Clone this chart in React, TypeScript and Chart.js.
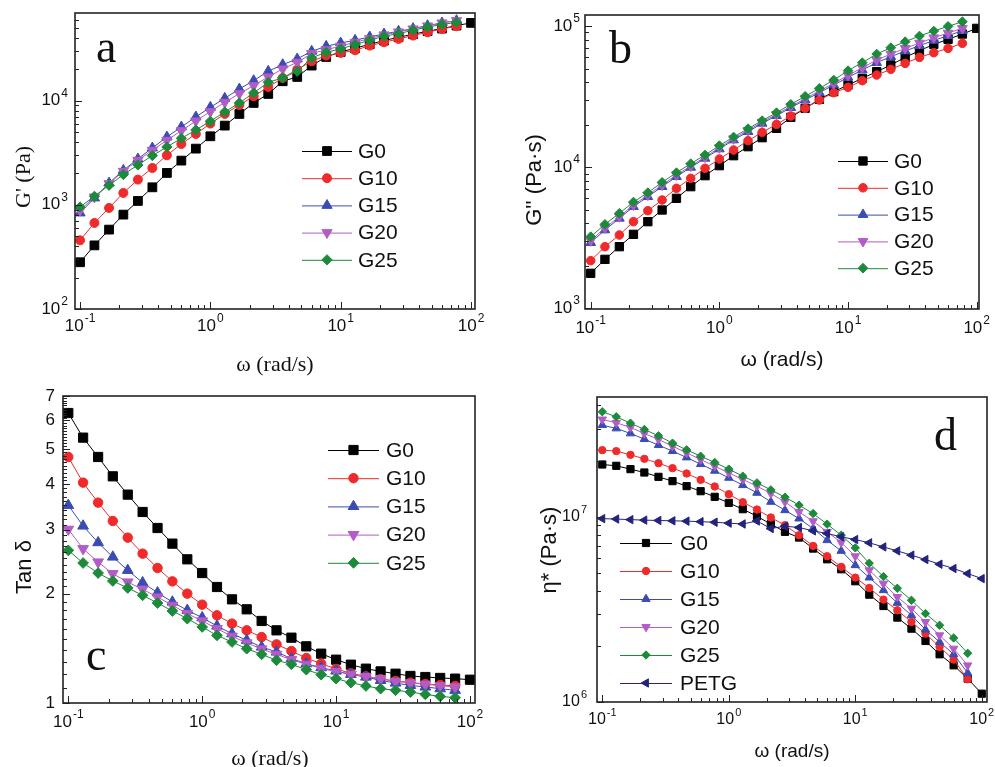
import React, { useEffect, useRef } from 'react';
import { Chart, registerables } from 'chart.js';

Chart.register(...registerables);

// angular frequency (rad/s)
const omega = [0.1, 0.129, 0.167, 0.215, 0.278, 0.359, 0.464, 0.599, 0.774, 1, 1.29, 1.67, 2.15, 2.78, 3.59, 4.64, 5.99, 7.74, 10, 12.9, 16.7, 21.5, 27.8, 35.9, 46.4, 59.9, 77.4, 100];

// (a) storage modulus G' (Pa)
const gpG0 = [281, 408, 578, 805, 1089, 1472, 2022, 2655, 3460, 4545, 5754, 7447, 9500, 11590, 15340, 16870, 21680, 26250, 29320, 31790, 34730, 37650, 40550, 43340, 46340, 49110, 52480, 55700];
const gpG10 = [456, 670, 933, 1300, 1745, 2258, 2986, 3837, 4786, 6016, 7447, 9080, 11010, 13520, 16500, 19860, 23870, 27040, 28700, 30400, 33700, 36300, 39100, 42100, 45300, 48700, 51700];
const gpG15 = [835, 1163, 1620, 2144, 2754, 3513, 4480, 5588, 6970, 8630, 10530, 12940, 15560, 19120, 22160, 25120, 29760, 33230, 35770, 37960, 40870, 43650, 46300, 49120, 52480, 55670, 58610];
const gpG20 = [886, 1189, 1597, 2097, 2674, 3336, 4161, 5152, 6380, 7843, 9638, 11670, 13930, 16870, 20140, 23330, 28260, 30870, 33230, 36310, 39380, 42710, 45620, 48750, 52100, 55670, 58610];
const gpG25 = [953, 1207, 1538, 1950, 2412, 2965, 3590, 4348, 5227, 6340, 7780, 9500, 11850, 15000, 16510, 19130, 25700, 29110, 31330, 34500, 37960, 41500, 43990, 47330, 50940, 53700, 56490];

// (b) loss modulus G'' (Pa·s)
const gppG0 = [1770, 2223, 2734, 3344, 4110, 4973, 6016, 7278, 8707, 10250, 12060, 13970, 16180, 18840, 22550, 26120, 30220, 34260, 38200, 42590, 47490, 52960, 59970, 66870, 74090, 80500, 87740, 96230];
const gppG10 = [2176, 2734, 3307, 4111, 4918, 5852, 7079, 8335, 9811, 11430, 13230, 15410, 17650, 20110, 23040, 26110, 29920, 33710, 36780, 41010, 44970, 49330, 54390, 59980, 64730, 69470, 75380];
const gppG15 = [2919, 3588, 4341, 5252, 6180, 7275, 8565, 9972, 11550, 13450, 15570, 17840, 20440, 23170, 26400, 29920, 33710, 38190, 43290, 48800, 55000, 60650, 66520, 72560, 79140, 85390, 92670];
const gppG20 = [3016, 3708, 4461, 5395, 6350, 7476, 8801, 10190, 11800, 13750, 15920, 18240, 20890, 23670, 26970, 30570, 34640, 39260, 44730, 50690, 57440, 63340, 69470, 75780, 82680, 89200, 96270];
const gppG25 = [3218, 3936, 4710, 5665, 6597, 7808, 9143, 10590, 12200, 14210, 16360, 18740, 21360, 24330, 27870, 31760, 36180, 41450, 48270, 55000, 63340, 70230, 77450, 84960, 92170, 99450, 107300];

// (c) tan delta
const tdG0 = [6.284, 5.376, 4.756, 4.207, 3.746, 3.356, 3.032, 2.746, 2.486, 2.279, 2.086, 1.929, 1.811, 1.682, 1.585, 1.513, 1.432, 1.367, 1.316, 1.275, 1.243, 1.222, 1.204, 1.187, 1.179, 1.172, 1.167, 1.159];
const tdG10 = [4.756, 4.042, 3.561, 3.17, 2.852, 2.577, 2.353, 2.162, 2.0, 1.865, 1.743, 1.654, 1.585, 1.519, 1.45, 1.39, 1.33, 1.283, 1.241, 1.207, 1.184, 1.164, 1.15, 1.138, 1.128, 1.121, 1.114];
const tdG15 = [3.501, 3.071, 2.764, 2.523, 2.319, 2.145, 2.012, 1.897, 1.8, 1.718, 1.629, 1.552, 1.488, 1.426, 1.382, 1.325, 1.283, 1.251, 1.225, 1.199, 1.179, 1.154, 1.135, 1.118, 1.107, 1.095, 1.084];
const tdG20 = [3.007, 2.659, 2.444, 2.27, 2.153, 2.055, 1.957, 1.857, 1.762, 1.682, 1.602, 1.526, 1.463, 1.408, 1.361, 1.316, 1.278, 1.246, 1.22, 1.199, 1.182, 1.167, 1.147, 1.136, 1.126, 1.116, 1.107];
const tdG25 = [2.632, 2.429, 2.279, 2.167, 2.073, 1.979, 1.885, 1.792, 1.707, 1.619, 1.535, 1.472, 1.411, 1.361, 1.311, 1.278, 1.235, 1.197, 1.167, 1.138, 1.114, 1.095, 1.084, 1.072, 1.056, 1.043, 1.034];

// (d) complex viscosity eta* (Pa·s)
const etaG0 = [1.918e7, 1.887e7, 1.81e7, 1.736e7, 1.645e7, 1.559e7, 1.465e7, 1.376e7, 1.283e7, 1.19e7, 1.1e7, 1.008e7, 9.13e6, 8.3e6, 7.73e6, 6.74e6, 5.9e6, 5.21e6, 4.49e6, 3.8e6, 3.3e6, 2.857e6, 2.49e6, 2.136e6, 1.81e6, 1.578e6, 1.337e6, 1.109e6];
const etaG10 = [2.293e7, 2.265e7, 2.163e7, 2.058e7, 1.95e7, 1.833e7, 1.715e7, 1.585e7, 1.459e7, 1.326e7, 1.2e7, 1.095e7, 9.92e6, 9.02e6, 7.96e6, 6.97e6, 6.13e6, 5.37e6, 4.7e6, 4.13e6, 3.575e6, 3.13e6, 2.706e6, 2.341e6, 1.983e6, 1.694e6, 1.326e6];
const etaG15 = [3.13e7, 3.003e7, 2.822e7, 2.629e7, 2.44e7, 2.265e7, 2.093e7, 1.926e7, 1.773e7, 1.625e7, 1.483e7, 1.348e7, 1.205e7, 1.086e7, 9.79e6, 8.65e6, 7.48e6, 6.55e6, 5.48e6, 4.7e6, 4.015e6, 3.43e6, 2.94e6, 2.46e6, 2.11e6, 1.81e6, 1.435e6];
const etaG20 = [3.358e7, 3.222e7, 3.04e7, 2.822e7, 2.618e7, 2.41e7, 2.218e7, 2.041e7, 1.879e7, 1.729e7, 1.591e7, 1.465e7, 1.337e7, 1.205e7, 1.064e7, 9.475e6, 8.3e6, 7.27e6, 6.13e6, 5.15e6, 4.36e6, 3.695e6, 3.195e6, 2.706e6, 2.293e6, 1.942e6, 1.578e6];
const etaG25 = [3.695e7, 3.472e7, 3.208e7, 2.966e7, 2.74e7, 2.502e7, 2.302e7, 2.127e7, 1.967e7, 1.81e7, 1.659e7, 1.527e7, 1.399e7, 1.277e7, 1.157e7, 1.042e7, 9.13e6, 7.96e6, 6.8e6, 5.62e6, 4.76e6, 4.115e6, 3.544e6, 3.003e6, 2.597e6, 2.218e6, 1.833e6];
const etaPETG = [9.78e6, 9.73e6, 9.66e6, 9.6e6, 9.56e6, 9.52e6, 9.48e6, 9.42e6, 9.35e6, 9.25e6, 9.15e6, 9.5e6, 8.65e6, 8.9e6, 8.76e6, 8.4e6, 8.13e6, 7.8e6, 7.54e6, 7.24e6, 6.88e6, 6.55e6, 6.21e6, 5.88e6, 5.55e6, 5.26e6, 4.94e6, 4.64e6];

// tick labels
const xTickValues = [0.1, 1, 10, 100];
const xTickExps = ['-1', '0', '1', '2'];
const yTicksA = [100, 1000, 10000];
const yExpsA = ['2', '3', '4'];
const yTicksB = [1000, 10000, 100000];
const yExpsB = ['3', '4', '5'];
const yTicksC = [1, 2, 3, 4, 5, 6, 7];
const yTicksD = [1e6, 1e7];
const yExpsD = ['6', '7'];

const SANS = '"Liberation Sans", Arial, sans-serif';
const SERIF = '"Liberation Serif", "Times New Roman", serif';

const STYLES: Record<string, { color: string; style: string; rot: number; r: number }> = {
  G0: { color: '#000000', style: 'rect', rot: 0, r: 6.2 },
  G10: { color: '#f02a2a', style: 'circle', rot: 0, r: 4.5 },
  G15: { color: '#3a4cb2', style: 'triangle', rot: 0, r: 5.9 },
  G20: { color: '#b35cc7', style: 'triangle', rot: 180, r: 5.9 },
  G25: { color: '#1c8a3a', style: 'rectRot', rot: 0, r: 5.1 },
  PETG: { color: '#23237e', style: 'triangle', rot: -90, r: 5.9 },
};

function drawMarker(ctx: CanvasRenderingContext2D, name: string, x: number, y: number, scale: number) {
  const st = STYLES[name];
  const r = st.r * scale;
  ctx.save();
  ctx.fillStyle = st.color;
  ctx.strokeStyle = st.color;
  ctx.lineWidth = 1;
  ctx.beginPath();
  if (st.style === 'circle') {
    ctx.arc(x, y, r, 0, Math.PI * 2);
  } else if (st.style === 'rect') {
    const s = Math.SQRT1_2 * r;
    ctx.rect(x - s, y - s, 2 * s, 2 * s);
  } else if (st.style === 'rectRot') {
    ctx.moveTo(x - r, y);
    ctx.lineTo(x, y - r);
    ctx.lineTo(x + r, y);
    ctx.lineTo(x, y + r);
    ctx.closePath();
  } else {
    let a = (st.rot * Math.PI) / 180;
    for (let k = 0; k < 3; k++) {
      const px = x + Math.sin(a) * r;
      const py = y - Math.cos(a) * r;
      if (k === 0) ctx.moveTo(px, py);
      else ctx.lineTo(px, py);
      a += (2 * Math.PI) / 3;
    }
    ctx.closePath();
  }
  ctx.fill();
  ctx.stroke();
  ctx.restore();
}

function drawPow(ctx: CanvasRenderingContext2D, exp: string, x: number, y: number, align: 'center' | 'right', size: number) {
  const sup = Math.round(size * 0.68);
  ctx.font = `${size}px ${SANS}`;
  const wb = ctx.measureText('10').width;
  ctx.font = `${sup}px ${SANS}`;
  const ws = ctx.measureText(exp).width;
  const total = wb + ws + 1;
  const left = align === 'center' ? x - total / 2 : x - total;
  ctx.textAlign = 'left';
  ctx.textBaseline = 'middle';
  ctx.font = `${size}px ${SANS}`;
  ctx.fillText('10', left, y);
  ctx.font = `${sup}px ${SANS}`;
  ctx.fillText(exp, left + wb + 1, y - size * 0.42);
}

function logMinor(min: number, max: number) {
  const out: { v: number; major: boolean }[] = [];
  const e0 = Math.floor(Math.log10(min));
  const e1 = Math.ceil(Math.log10(max));
  for (let e = e0; e <= e1; e++) {
    for (let m = 1; m <= 9; m++) {
      const v = m * Math.pow(10, e);
      if (v >= min * 0.9999 && v <= max * 1.0001) out.push({ v, major: m === 1 });
    }
  }
  return out;
}

type Cfg = {
  key: string;
  left: number; top: number; w: number; h: number;
  pad: { left: number; top: number; right: number; bottom: number };
  xMin: number; xMax: number; yMin: number; yMax: number;
  series: [string, number[]][];
  mscale: number;
  xTitle: string; xTitleFont: string; xTitlePos: [number, number];
  yTitle: string; yTitleFont: string; yTitlePos: [number, number];
  letter: string; letterPos: [number, number];
  legend: { x: number; y: number; dy: number; len: number; textX: number };
  xLabelY: number; yLabelRight: number; tickFont: number;
  yTicks: number[]; yExps: string[] | null; linMinor: boolean;
};

const panels: Cfg[] = [
  {
    key: 'a', left: 0, top: 0, w: 495, h: 385,
    pad: { left: 75, top: 13, right: 20, bottom: 76 },
    xMin: 0.0915, xMax: 107.3, yMin: 100, yMax: 69300,
    series: [['G0', gpG0], ['G10', gpG10], ['G15', gpG15], ['G20', gpG20], ['G25', gpG25]],
    mscale: 1,
    xTitle: 'ω (rad/s)', xTitleFont: `22px ${SERIF}`, xTitlePos: [275, 365],
    yTitle: "G' (Pa)", yTitleFont: `22px ${SERIF}`, yTitlePos: [24, 177],
    letter: 'a', letterPos: [96, 62],
    legend: { x: 302, y: 151, dy: 27.2, len: 50, textX: 358 },
    xLabelY: 326, yLabelRight: 68, tickFont: 17,
    yTicks: yTicksA, yExps: yExpsA, linMinor: false,
  },
  {
    key: 'b', left: 495, top: 0, w: 500, h: 385,
    pad: { left: 90, top: 15, right: 16, bottom: 76 },
    xMin: 0.0903, xMax: 104.2, yMin: 989, yMax: 119700,
    series: [['G0', gppG0], ['G10', gppG10], ['G15', gppG15], ['G20', gppG20], ['G25', gppG25]],
    mscale: 0.95,
    xTitle: 'ω (rad/s)', xTitleFont: `21px ${SANS}`, xTitlePos: [287, 360],
    yTitle: "G'' (Pa·s)", yTitleFont: `22px ${SANS}`, yTitlePos: [40, 180],
    letter: 'b', letterPos: [114, 63],
    legend: { x: 343, y: 161, dy: 26.8, len: 50, textX: 399 },
    xLabelY: 328, yLabelRight: 85, tickFont: 17,
    yTicks: yTicksB, yExps: yExpsB, linMinor: false,
  },
  {
    key: 'c', left: 0, top: 385, w: 495, h: 382,
    pad: { left: 63, top: 11, right: 20, bottom: 64 },
    xMin: 0.0913, xMax: 109, yMin: 1, yMax: 7,
    series: [['G0', tdG0], ['G10', tdG10], ['G15', tdG15], ['G20', tdG20], ['G25', tdG25]],
    mscale: 1.05,
    xTitle: 'ω (rad/s)', xTitleFont: `22px ${SERIF}`, xTitlePos: [270, 374],
    yTitle: 'Tan δ', yTitleFont: `22px ${SANS}`, yTitlePos: [25, 182],
    letter: 'c', letterPos: [86, 285],
    legend: { x: 328, y: 65, dy: 28.2, len: 51, textX: 386 },
    xLabelY: 337, yLabelRight: 55, tickFont: 17,
    yTicks: yTicksC, yExps: null, linMinor: true,
  },
  {
    key: 'd', left: 495, top: 385, w: 500, h: 382,
    pad: { left: 102, top: 12, right: 8, bottom: 65 },
    xMin: 0.0908, xMax: 110, yMin: 1e6, yMax: 4.44e7,
    series: [['G0', etaG0], ['G10', etaG10], ['G15', etaG15], ['G20', etaG20], ['G25', etaG25], ['PETG', etaPETG]],
    mscale: 0.82,
    xTitle: 'ω (rad/s)', xTitleFont: `19px ${SANS}`, xTitlePos: [297, 367],
    yTitle: 'η* (Pa·s)', yTitleFont: `22px ${SANS}`, yTitlePos: [55, 165],
    letter: 'd', letterPos: [439, 65],
    legend: { x: 125, y: 158, dy: 28, len: 52, textX: 185 },
    xLabelY: 335, yLabelRight: 92, tickFont: 16,
    yTicks: yTicksD, yExps: yExpsD, linMinor: false,
  },
];

function makeFrame(cfg: Cfg) {
  return {
    id: 'frame_' + cfg.key,
    afterDraw(chart: any) {
      const ctx: CanvasRenderingContext2D = chart.ctx;
      const ca = chart.chartArea;
      const xs = chart.scales.x;
      const ys = chart.scales.y;
      ctx.save();
      ctx.fillStyle = '#111';
      ctx.strokeStyle = '#222';
      ctx.lineWidth = 1;

      // x ticks (inward, bottom)
      for (const t of logMinor(cfg.xMin, cfg.xMax)) {
        const px = Math.round(xs.getPixelForValue(t.v)) + 0.5;
        ctx.beginPath();
        ctx.moveTo(px, ca.bottom);
        ctx.lineTo(px, ca.bottom - (t.major ? 7 : 4));
        ctx.stroke();
      }
      // y ticks (inward, left)
      const yTickList: { v: number; major: boolean }[] = [];
      if (cfg.linMinor) {
        for (let i = 10; i <= 70; i++) yTickList.push({ v: i / 10, major: i % 10 === 0 });
      } else {
        yTickList.push(...logMinor(cfg.yMin, cfg.yMax));
      }
      for (const t of yTickList) {
        const py = Math.round(ys.getPixelForValue(t.v)) + 0.5;
        ctx.beginPath();
        ctx.moveTo(ca.left, py);
        ctx.lineTo(ca.left + (t.major ? 7 : 4), py);
        ctx.stroke();
      }

      // frame
      ctx.lineWidth = 1.6;
      ctx.strokeStyle = '#222';
      ctx.strokeRect(ca.left, ca.top, ca.right - ca.left, ca.bottom - ca.top);

      // tick labels
      ctx.fillStyle = '#111';
      xTickValues.forEach((v, i) => {
        drawPow(ctx, xTickExps[i], xs.getPixelForValue(v), cfg.xLabelY, 'center', cfg.tickFont);
      });
      cfg.yTicks.forEach((v, i) => {
        const py = ys.getPixelForValue(v);
        if (cfg.yExps) {
          drawPow(ctx, cfg.yExps[i], cfg.yLabelRight, py, 'right', cfg.tickFont);
        } else {
          ctx.font = `${cfg.tickFont}px ${SANS}`;
          ctx.textAlign = 'right';
          ctx.textBaseline = 'middle';
          ctx.fillText(String(v), cfg.yLabelRight, py);
        }
      });

      // axis titles
      ctx.font = cfg.xTitleFont;
      ctx.textAlign = 'center';
      ctx.textBaseline = 'middle';
      ctx.fillText(cfg.xTitle, cfg.xTitlePos[0], cfg.xTitlePos[1]);
      ctx.save();
      ctx.translate(cfg.yTitlePos[0], cfg.yTitlePos[1]);
      ctx.rotate(-Math.PI / 2);
      ctx.font = cfg.yTitleFont;
      ctx.fillText(cfg.yTitle, 0, 0);
      ctx.restore();

      // panel letter
      ctx.font = `46px ${SERIF}`;
      ctx.textAlign = 'left';
      ctx.textBaseline = 'alphabetic';
      ctx.fillText(cfg.letter, cfg.letterPos[0], cfg.letterPos[1]);

      // legend
      cfg.series.forEach(([name], i) => {
        const st = STYLES[name];
        const y = cfg.legend.y + i * cfg.legend.dy;
        ctx.strokeStyle = st.color;
        ctx.lineWidth = 1;
        ctx.beginPath();
        ctx.moveTo(cfg.legend.x, y + 0.5);
        ctx.lineTo(cfg.legend.x + cfg.legend.len, y + 0.5);
        ctx.stroke();
        drawMarker(ctx, name, cfg.legend.x + cfg.legend.len / 2, y, cfg.mscale);
        ctx.fillStyle = '#111';
        ctx.font = `21px ${SANS}`;
        ctx.textAlign = 'left';
        ctx.textBaseline = 'middle';
        ctx.fillText(name, cfg.legend.textX, y + 1);
      });
      ctx.restore();
    },
  };
}

function Panel({ cfg }: { cfg: Cfg }) {
  const ref = useRef<HTMLCanvasElement>(null);
  useEffect(() => {
    const canvas = ref.current;
    if (!canvas) return;
    const datasets = cfg.series.map(([name, vals], i) => {
      const st = STYLES[name];
      return {
        label: name,
        data: vals.map((v, k) => ({ x: omega[k], y: v })),
        borderColor: st.color,
        backgroundColor: st.color,
        borderWidth: 1,
        pointStyle: st.style as any,
        pointRotation: st.rot,
        pointRadius: st.r * cfg.mscale,
        pointBorderWidth: 1,
        pointBackgroundColor: st.color,
        pointBorderColor: st.color,
        tension: 0,
        showLine: true,
        order: -i,
      };
    });
    const chart = new Chart(canvas, {
      type: 'line',
      data: { datasets },
      options: {
        animation: false,
        responsive: false,
        devicePixelRatio: 1,
        events: [],
        layout: { padding: cfg.pad },
        scales: {
          x: { type: 'logarithmic', min: cfg.xMin, max: cfg.xMax, display: false, bounds: 'data' },
          y: { type: 'logarithmic', min: cfg.yMin, max: cfg.yMax, display: false, bounds: 'data' },
        },
        plugins: { legend: { display: false }, tooltip: { enabled: false } },
      },
      plugins: [makeFrame(cfg)],
    } as any);
    return () => chart.destroy();
  }, [cfg]);
  return (
    <canvas
      ref={ref}
      width={cfg.w}
      height={cfg.h}
      style={{ position: 'absolute', left: cfg.left, top: cfg.top, width: cfg.w, height: cfg.h }}
    />
  );
}

export default function App() {
  return (
    <div style={{ position: 'absolute', left: 0, top: 0, width: 995, height: 767, background: '#ffffff', overflow: 'hidden' }}>
      {panels.map((p) => (
        <Panel key={p.key} cfg={p} />
      ))}
    </div>
  );
}
